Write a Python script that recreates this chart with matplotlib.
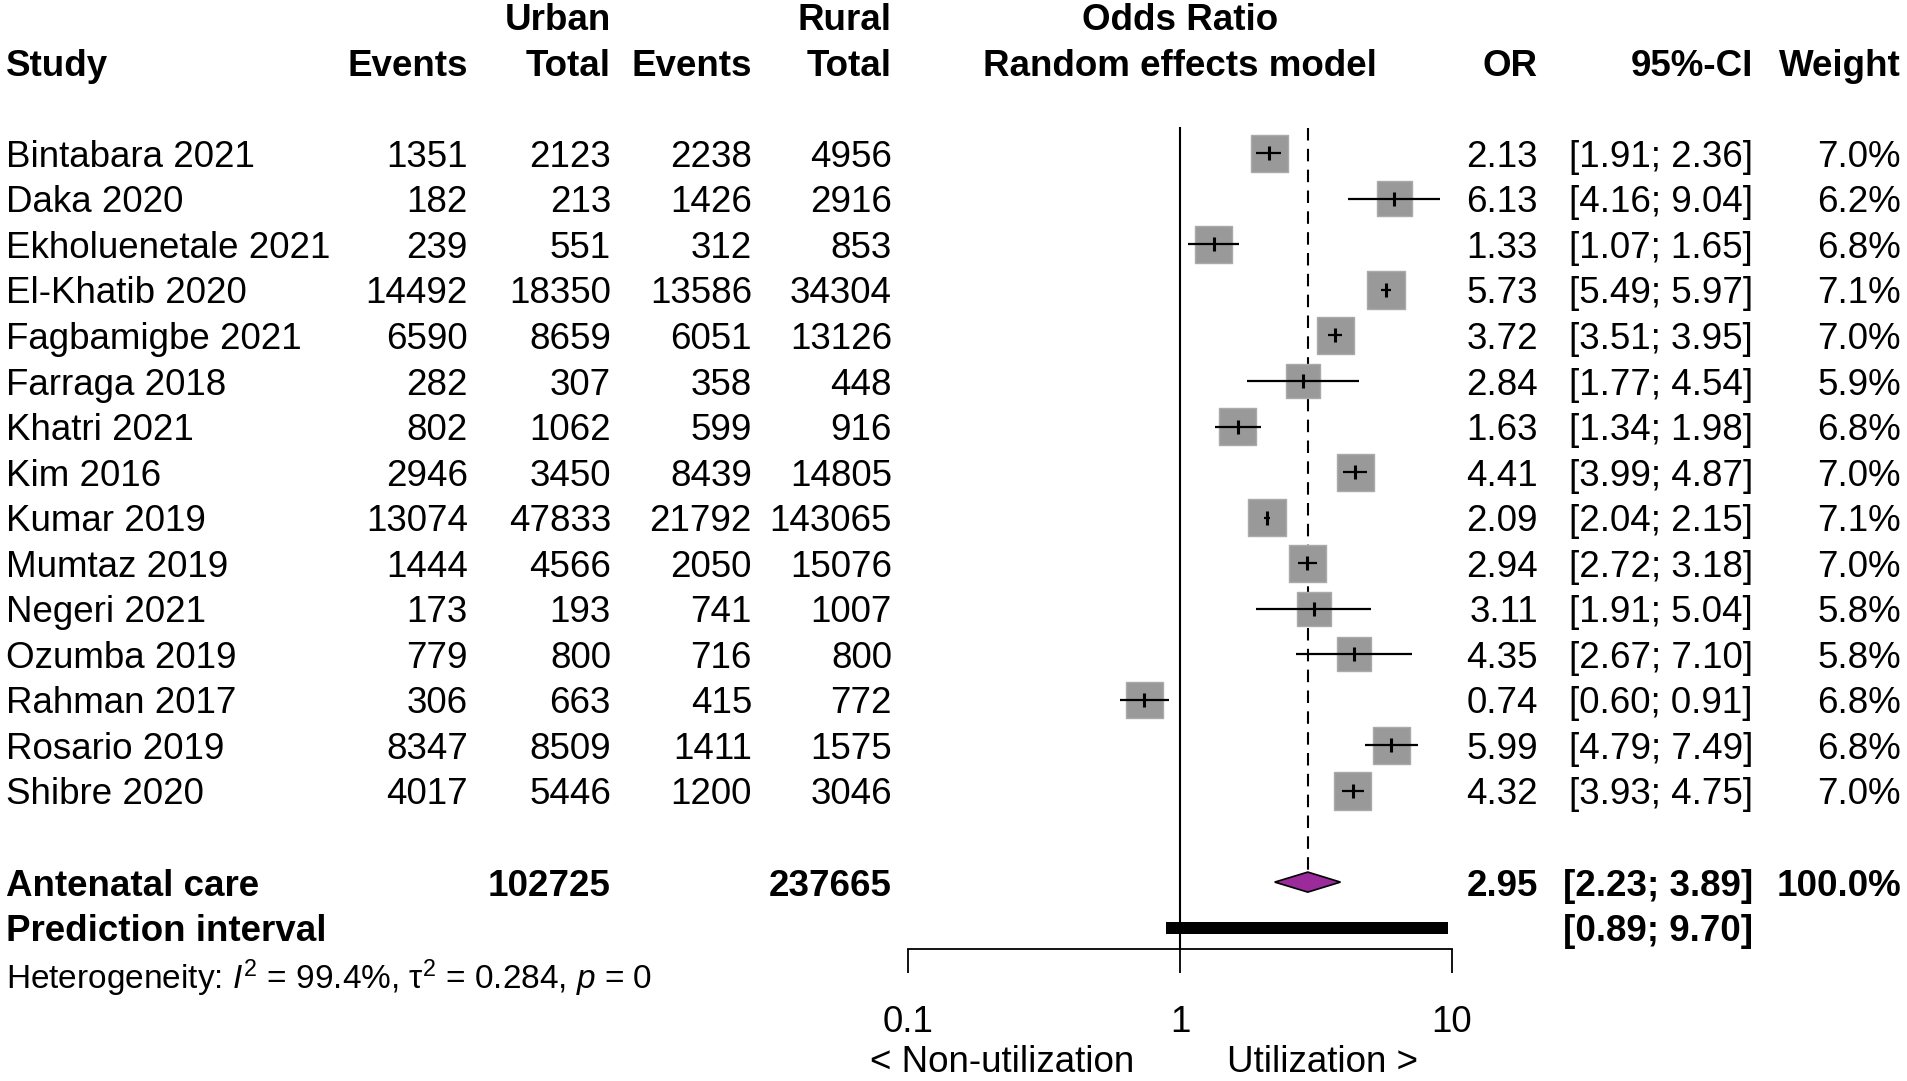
import numpy as np
import matplotlib
matplotlib.use("Agg")
import matplotlib.pyplot as plt

plt.rcParams['font.family'] = ['Liberation Sans', 'DejaVu Sans']
plt.rcParams['mathtext.fontset'] = 'custom'
plt.rcParams['mathtext.rm'] = 'Liberation Sans'
plt.rcParams['mathtext.it'] = 'Liberation Sans:italic'

# study data
studies = ['Bintabara 2021', 'Daka 2020', 'Ekholuenetale 2021', 'El-Khatib 2020',
           'Fagbamigbe 2021', 'Farraga 2018', 'Khatri 2021', 'Kim 2016', 'Kumar 2019',
           'Mumtaz 2019', 'Negeri 2021', 'Ozumba 2019', 'Rahman 2017', 'Rosario 2019',
           'Shibre 2020']
urban_events = [1351, 182, 239, 14492, 6590, 282, 802, 2946, 13074, 1444, 173, 779, 306, 8347, 4017]
urban_total = [2123, 213, 551, 18350, 8659, 307, 1062, 3450, 47833, 4566, 193, 800, 663, 8509, 5446]
rural_events = [2238, 1426, 312, 13586, 6051, 358, 599, 8439, 21792, 2050, 741, 716, 415, 1411, 1200]
rural_total = [4956, 2916, 853, 34304, 13126, 448, 916, 14805, 143065, 15076, 1007, 800, 772, 1575, 3046]
odds = [2.13, 6.13, 1.33, 5.73, 3.72, 2.84, 1.63, 4.41, 2.09, 2.94, 3.11, 4.35, 0.74, 5.99, 4.32]
ci_low = [1.91, 4.16, 1.07, 5.49, 3.51, 1.77, 1.34, 3.99, 2.04, 2.72, 1.91, 2.67, 0.60, 4.79, 3.93]
ci_high = [2.36, 9.04, 1.65, 5.97, 3.95, 4.54, 1.98, 4.87, 2.15, 3.18, 5.04, 7.10, 0.91, 7.49, 4.75]
weights = [7.0, 6.2, 6.8, 7.1, 7.0, 5.9, 6.8, 7.0, 7.1, 7.0, 5.8, 5.8, 6.8, 6.8, 7.0]

pooled_label = 'Antenatal care'
pooled_urban_total = 102725
pooled_rural_total = 237665
pooled_or, pooled_low, pooled_high = 2.95, 2.23, 3.89
pred_low, pred_high = 0.89, 9.70
het_text = 'Heterogeneity: $I^2$ = 99.4%, τ$^2$ = 0.284, $p$ = 0'

W, H = 1908, 1081
fig = plt.figure(figsize=(W / 100, H / 100), dpi=100)

# text layer in pixel coordinates
tx = fig.add_axes([0, 0, 1, 1])
tx.set_xlim(0, W)
tx.set_ylim(H, 0)
tx.axis('off')

row0, step = 153.3, 45.55
toff = 4  # text baseline nudge
fs = 26.5
n = len(studies)
rows = np.arange(n)

# forest axes, log scale, rows as y
x0, x1 = 908, 1452
fax = fig.add_axes([x0 / W, 0, (x1 - x0) / W, 1])
fax.patch.set_alpha(0)
fax.set_xscale('log')
fax.set_xlim(0.1, 10)
fax.set_ylim((H - row0) / step, -row0 / step)
for s in ['top', 'left', 'right']:
    fax.spines[s].set_visible(False)
axis_row = 17.47
fax.spines['bottom'].set_position(('data', axis_row))
fax.spines['bottom'].set_linewidth(1.3)
fax.set_yticks([])
fax.set_xticks([0.1, 1, 10])
fax.set_xticklabels(['0.1', '1', '10'])
fax.xaxis.set_minor_locator(matplotlib.ticker.NullLocator())
fax.tick_params(axis='x', length=17, width=1.3, pad=23, labelsize=fs)

# reference lines
fax.plot([1, 1], [-0.55, axis_row], color='black', lw=1.5, zorder=1)
fax.plot([pooled_or, pooled_or], [-0.55, 15.75], color='black', lw=1.5,
         ls=(0, (6, 4)), zorder=1)

# study squares and CIs
fax.scatter(odds, rows, s=np.array(weights) / 7.0 * 720, marker='s',
            color='#999999', edgecolor='#aaaaaa', linewidth=1, zorder=3)
fax.hlines(rows, ci_low, ci_high, color='black', lw=1.6, zorder=4)
fax.scatter(odds, rows, marker='|', s=110, color='black', linewidth=2.2, zorder=5)

# pooled diamond
dy = 0.22
fax.fill([pooled_low, pooled_or, pooled_high, pooled_or],
         [n + 1, n + 1 - dy, n + 1, n + 1 + dy],
         facecolor='#9b2a9b', edgecolor='black', lw=1.2, zorder=4)

# prediction interval
fax.barh(n + 2, pred_high - pred_low, left=pred_low, height=0.26,
         color='black', zorder=4)

# headers
hy1, hy2 = 17 + toff, 63 + toff
tx.text(6, hy2, 'Study', ha='left', va='center', fontsize=fs, fontweight='bold')
tx.text(468, hy2, 'Events', ha='right', va='center', fontsize=fs, fontweight='bold')
tx.text(611, hy1, 'Urban', ha='right', va='center', fontsize=fs, fontweight='bold')
tx.text(611, hy2, 'Total', ha='right', va='center', fontsize=fs, fontweight='bold')
tx.text(752, hy2, 'Events', ha='right', va='center', fontsize=fs, fontweight='bold')
tx.text(892, hy1, 'Rural', ha='right', va='center', fontsize=fs, fontweight='bold')
tx.text(892, hy2, 'Total', ha='right', va='center', fontsize=fs, fontweight='bold')
tx.text(1180, hy1, 'Odds Ratio', ha='center', va='center', fontsize=fs, fontweight='bold')
tx.text(1180, hy2, 'Random effects model', ha='center', va='center', fontsize=fs, fontweight='bold')
tx.text(1538, hy2, 'OR', ha='right', va='center', fontsize=fs, fontweight='bold')
tx.text(1753, hy2, '95%-CI', ha='right', va='center', fontsize=fs, fontweight='bold')
tx.text(1901, hy2, 'Weight', ha='right', va='center', fontsize=fs, fontweight='bold')

# study rows
for i in range(n):
    y = row0 + step * i + toff
    tx.text(6, y, studies[i], ha='left', va='center', fontsize=fs)
    tx.text(468, y, str(urban_events[i]), ha='right', va='center', fontsize=fs)
    tx.text(611, y, str(urban_total[i]), ha='right', va='center', fontsize=fs)
    tx.text(752, y, str(rural_events[i]), ha='right', va='center', fontsize=fs)
    tx.text(892, y, str(rural_total[i]), ha='right', va='center', fontsize=fs)
    tx.text(1538, y, f'{odds[i]:.2f}', ha='right', va='center', fontsize=fs)
    tx.text(1753, y, f'[{ci_low[i]:.2f}; {ci_high[i]:.2f}]', ha='right', va='center', fontsize=fs)
    tx.text(1901, y, f'{weights[i]:.1f}%', ha='right', va='center', fontsize=fs)

# summary rows
ys = row0 + step * (n + 1) + toff
tx.text(6, ys, pooled_label, ha='left', va='center', fontsize=fs, fontweight='bold')
tx.text(611, ys, str(pooled_urban_total), ha='right', va='center', fontsize=fs, fontweight='bold')
tx.text(892, ys, str(pooled_rural_total), ha='right', va='center', fontsize=fs, fontweight='bold')
tx.text(1538, ys, f'{pooled_or:.2f}', ha='right', va='center', fontsize=fs, fontweight='bold')
tx.text(1753, ys, f'[{pooled_low:.2f}; {pooled_high:.2f}]', ha='right', va='center', fontsize=fs, fontweight='bold')
tx.text(1901, ys, '100.0%', ha='right', va='center', fontsize=fs, fontweight='bold')

yp = row0 + step * (n + 2) + toff
tx.text(6, yp, 'Prediction interval', ha='left', va='center', fontsize=fs, fontweight='bold')
tx.text(1753, yp, f'[{pred_low:.2f}; {pred_high:.2f}]', ha='right', va='center', fontsize=fs, fontweight='bold')

tx.text(6, 978, het_text, ha='left', va='center', fontsize=24)

tx.text(1134, 1063, '< Non-utilization', ha='right', va='center', fontsize=fs)
tx.text(1227, 1063, 'Utilization >', ha='left', va='center', fontsize=fs)

fig.savefig('out.png', dpi=100)
